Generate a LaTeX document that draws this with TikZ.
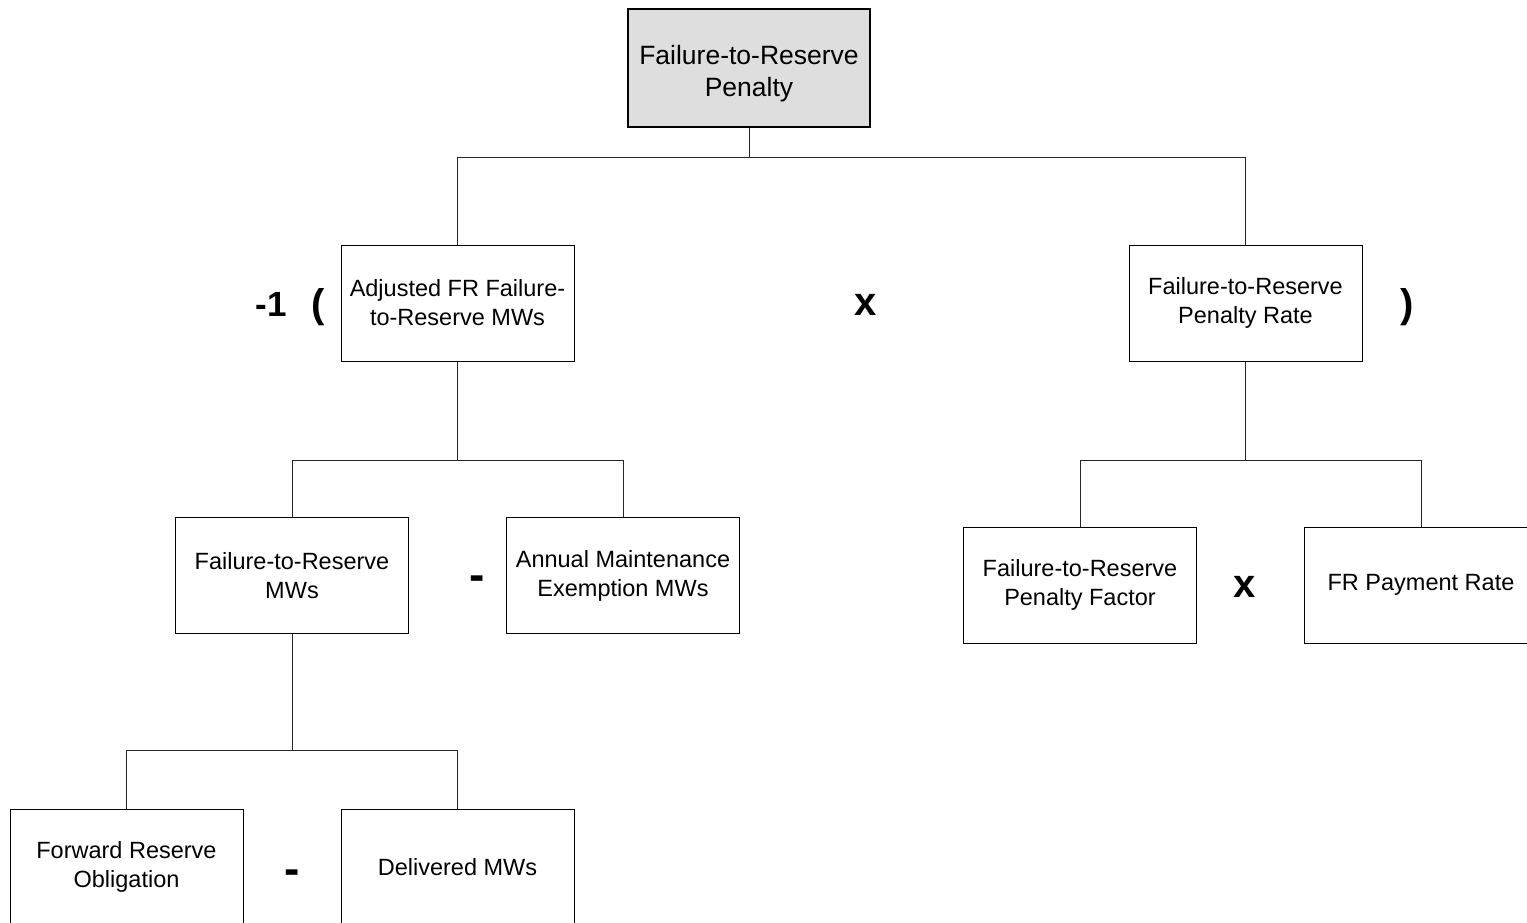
\documentclass[tikz,border=0pt]{standalone}
\usepackage{fontspec}
\setmainfont{Liberation Sans}
\begin{document}
\begin{tikzpicture}[x=1pt,y=-1pt,
  box/.style={draw=black, line width=1pt, fill=white, minimum width=233pt, minimum height=116pt,
    align=center, inner sep=0pt, font=\fontsize{23.5}{29}\selectfont},
  topbox/.style={box, line width=2pt, fill=black!13, minimum width=242pt, minimum height=118pt,
    font=\fontsize{26.5}{32}\selectfont},
  link/.style={draw=black!85, line width=1pt},
  oper/.style={inner sep=0pt, font=\fontsize{40}{40}\bfseries\selectfont}]
\useasboundingbox (0,0) rectangle (1527,922);
\clip (0,0) rectangle (1527,922);
\fill[white] (0,0) rectangle (1527,922);

% nodes
\node[topbox] (top) at (749,68) {\rule{0pt}{30pt}Failure-to-Reserve\\Penalty};
\node[box] (adj)  at (457.5,303) {Adjusted FR Failure-\\to-Reserve MWs};
\node[box] (rate) at (1245.5,303) {Failure-to-Reserve\\Penalty Rate};
\node[box] (frmw) at (292,575.5) {Failure-to-Reserve\\MWs};
\node[box] (ame)  at (623,575.5) {Annual Maintenance\\Exemption MWs};
\node[box] (fac)  at (1080,585) {Failure-to-Reserve\\Penalty Factor};
\node[box] (pay)  at (1421,585) {FR Payment Rate};
\node[box] (fro)  at (126.5,867) {Forward Reserve\\Obligation};
\node[box] (del)  at (457.5,867) {Delivered MWs};

% bus levels
\coordinate (b1) at (749,157);
\coordinate (b2) at (457.5,460);
\coordinate (b3) at (1245.5,460);
\coordinate (b4) at (292,750);

% connectors
\draw[link] (top.south) -- (b1) -| (adj.north);
\draw[link] (b1) -| (rate.north);
\draw[link] (adj.south) -- (b2) -| (frmw.north);
\draw[link] (b2) -| (ame.north);
\draw[link] (rate.south) -- (b3) -| (fac.north);
\draw[link] (b3) -| (pay.north);
\draw[link] (frmw.south) -- (b4) -| (fro.north);
\draw[link] (b4) -| (del.north);

% operators
\node[oper, font=\fontsize{35}{35}\bfseries\selectfont] (m1) at (271,304) {-1};
\node[oper] (lp) at (318,307) {(};
\node[oper] (x1) at (866,305) {x};
\node[oper] (rp) at (1407,307) {)};
\node[oper, font=\fontsize{46}{46}\bfseries\selectfont] (s1) at (477,583) {-};
\node[oper] (x2) at (1245,587) {x};
\node[oper, font=\fontsize{46}{46}\bfseries\selectfont] (s2) at (292,877) {-};
\end{tikzpicture}
\end{document}
